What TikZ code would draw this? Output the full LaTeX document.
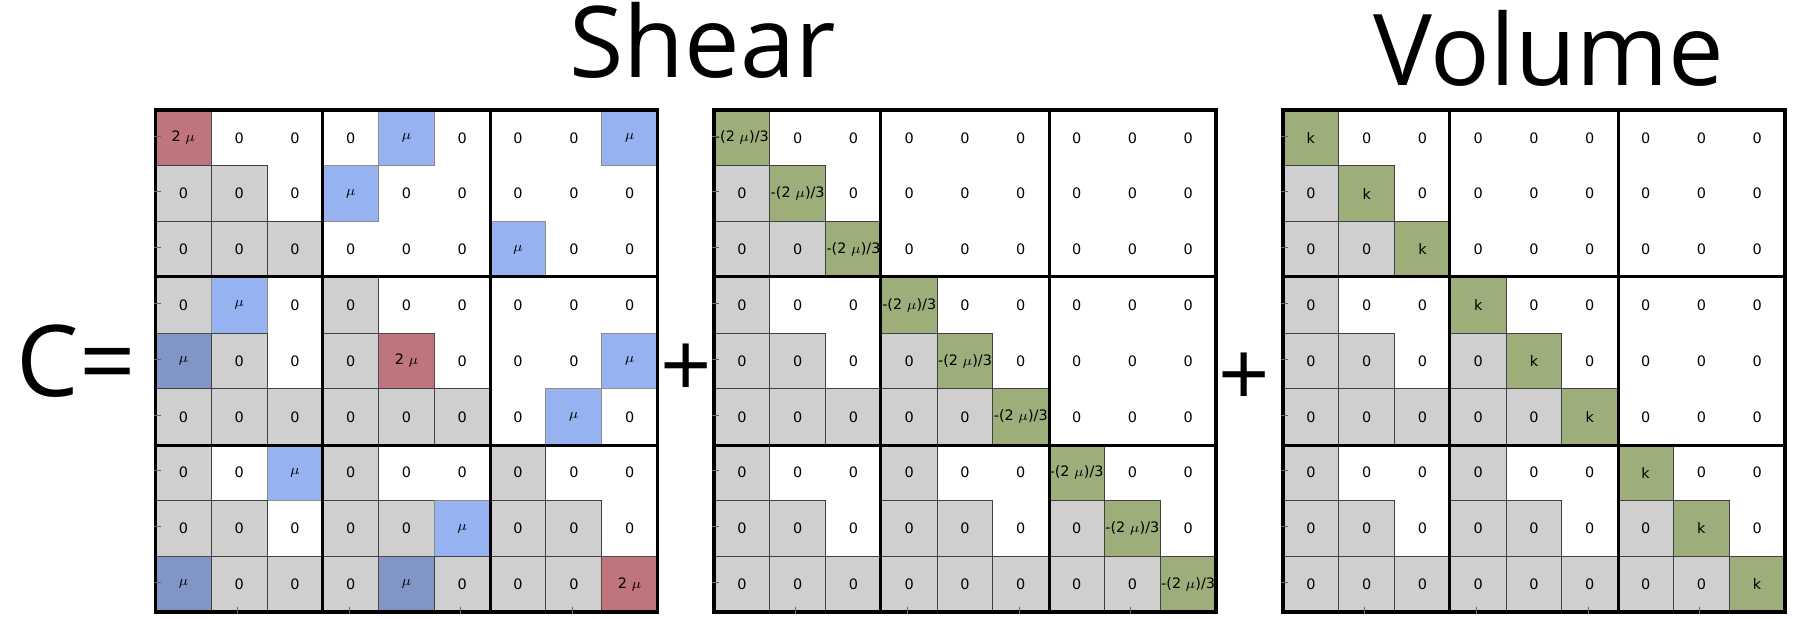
\documentclass[tikz,border=0pt]{standalone}
\usepackage{fontspec}
\setmainfont{DejaVu Sans}
\newfontfamily\titlefont{Open Sans}
\usetikzlibrary{calc}
\definecolor{cgray}{RGB}{207,207,207}
\definecolor{cred}{RGB}{192,116,124}
\definecolor{cblue}{RGB}{151,178,240}
\definecolor{cdblue}{RGB}{130,150,197}
\definecolor{cgreen}{RGB}{158,174,122}
\newcommand\mmu{$\mu$}
\tikzset{
  cell/.style={inner sep=0pt, minimum width=27.89pt, minimum height=27.89pt,
    font=\fontsize{7.2}{8.5}\selectfont, line width=0.5pt},
  cW/.style={},
  cG/.style={fill=cgray, draw=black!75},
  cR/.style={fill=cred, draw=black!70},
  cB/.style={fill=cblue, draw=black!45},
  cD/.style={fill=cdblue, draw=black!70},
  cE/.style={fill=cgreen, draw=black!75},
  frame/.style={draw=black, line width=1.7pt, inner sep=0pt, minimum size=251pt},
  blockline/.style={draw=black, line width=1.7pt},
  tickmark/.style={draw=black!60, line width=0.5pt},
  title/.style={font=\titlefont\fontsize{49.5}{58}\selectfont, inner sep=0pt},
  plussign/.style={font=\titlefont\fontsize{45}{54}\selectfont, inner sep=0pt}
}
\newcommand\drawvol[3]{%
  \foreach \ri in {1,...,9}{\foreach \ci in {1,...,9}{
    \pgfmathtruncatemacro\br{int((\ri-1)/3)}
    \pgfmathtruncatemacro\bc{int((\ci-1)/3)}
    \pgfmathtruncatemacro\lr{\ri-1-3*\br}
    \pgfmathtruncatemacro\lc{\ci-1-3*\bc}
    \pgfmathtruncatemacro\kind{ifthenelse(or(\br<\bc,\lr<\lc),0,ifthenelse(and(\br==\bc,\lr==\lc),2,1))}
    \ifcase\kind \def\st{cW}\def\tx{0}\or \def\st{cG}\def\tx{0}\or \def\st{cE}\def\tx{#3}\fi
    \node[cell,\st] (#1-\ri-\ci) at ({#2+(\ci-0.5)*55.78},{110+(\ri-0.5)*55.78}) {\tx};
  }}}
\newcommand\drawframe[2]{%
  \node[frame] (#1) at ({#2+251},361) {};
  \draw[blockline] ($(#1.north west)!1/3!(#1.north east)$) -- ($(#1.south west)!1/3!(#1.south east)$);
  \draw[blockline] ($(#1.north west)!2/3!(#1.north east)$) -- ($(#1.south west)!2/3!(#1.south east)$);
  \draw[blockline] ($(#1.north west)!1/3!(#1.south west)$) -- ($(#1.north east)!1/3!(#1.south east)$);
  \draw[blockline] ($(#1.north west)!2/3!(#1.south west)$) -- ($(#1.north east)!2/3!(#1.south east)$);
  \foreach \ri in {1,...,9}{\draw[tickmark] ($(#1.north west)+(0,{(\ri-0.5)*55.78})$) -- ++(7,0);}
  \foreach \ci in {2,4,6,8}{\draw[tickmark] ($(#1.south west)+({(\ci-0.5)*55.78},0)$) -- ++(0,-7);}
}
\begin{document}
\begin{tikzpicture}[x=0.5pt,y=-0.5pt]
\useasboundingbox (0,0) rectangle (1800,619);
\fill[white] (0,0) rectangle (1800,619);
% matrix 1
\foreach \rowlist [count=\ri] in {
 {cR/{2 \mmu},cW/0,cW/0,cW/0,cB/\mmu,cW/0,cW/0,cW/0,cB/\mmu},
 {cG/0,cG/0,cW/0,cB/\mmu,cW/0,cW/0,cW/0,cW/0,cW/0},
 {cG/0,cG/0,cG/0,cW/0,cW/0,cW/0,cB/\mmu,cW/0,cW/0},
 {cG/0,cB/\mmu,cW/0,cG/0,cW/0,cW/0,cW/0,cW/0,cW/0},
 {cD/\mmu,cG/0,cW/0,cG/0,cR/{2 \mmu},cW/0,cW/0,cW/0,cB/\mmu},
 {cG/0,cG/0,cG/0,cG/0,cG/0,cG/0,cW/0,cB/\mmu,cW/0},
 {cG/0,cW/0,cB/\mmu,cG/0,cW/0,cW/0,cG/0,cW/0,cW/0},
 {cG/0,cG/0,cW/0,cG/0,cG/0,cB/\mmu,cG/0,cG/0,cW/0},
 {cD/\mmu,cG/0,cG/0,cG/0,cD/\mmu,cG/0,cG/0,cG/0,cR/{2 \mmu}}}{
  \foreach \st/\tx [count=\ci] in \rowlist {
    \node[cell,\st] (a-\ri-\ci) at ({155.5+(\ci-0.5)*55.78},{110+(\ri-0.5)*55.78}) {\tx};
  }}
% matrices 2 and 3
\drawvol{b}{714}{-(2 \mmu)/3}
\drawvol{k}{1283}{k}
% frames
\drawframe{F1}{155.5}
\drawframe{F2}{714}
\drawframe{F3}{1283}
% texts
\node[title, anchor=base] (shear) at (702.5,77.5) {Shear};
\node[title, anchor=base] (volume) at (1549,85.5) {Volume};
\node[title, anchor=base] (ceq) at (76.5,396.5) {C=};
\node[plussign, anchor=base] (plus1) at (686,397.5) {+};
\node[plussign, anchor=base] (plus2) at (1244,406.5) {+};
\end{tikzpicture}
\end{document}
